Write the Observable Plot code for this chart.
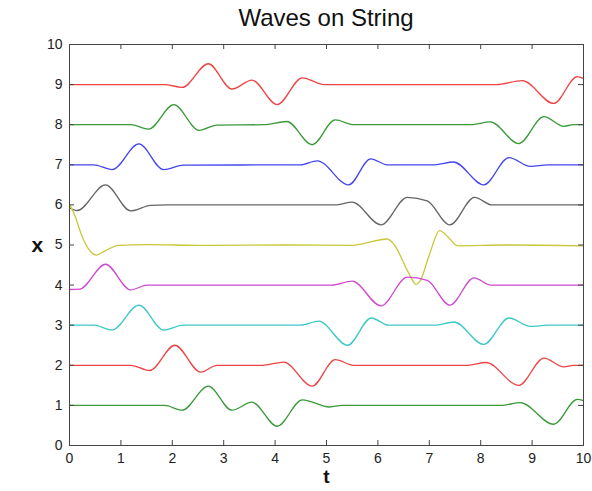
<!DOCTYPE html>
<html><head><meta charset="utf-8">
<script src="https://cdn.jsdelivr.net/npm/d3@7"></script>
<script src="https://cdn.jsdelivr.net/npm/@observablehq/plot@0.6"></script>
<style>
body{margin:0;background:#fff;font-family:"Liberation Sans",Arial,sans-serif;}
#title{width:592px;height:34px;box-sizing:border-box;padding-left:60px;text-align:center;font-size:24px;line-height:36px;color:#111;}
</style></head>
<body>
<div id="title">Waves on String</div>
<div id="chart"></div>
<script>
const xTicks = [0,1,2,3,4,5,6,7,8,9,10];
const yTicks = [0,1,2,3,4,5,6,7,8,9,10];

// key points: t values and x values per string
const t9 = [0,1.85,2.19,2.70,3.16,3.55,4.04,4.53,4.95,8.3,8.81,9.42,9.88,10];
const x9 = [9,9,8.93,9.52,8.89,9.11,8.5,9.17,9.0,9.0,9.1,8.53,9.2,9.15];
const t8 = [0,1.19,1.54,2.03,2.52,2.87,3.78,4.23,4.72,5.17,5.53,7.8,8.19,8.74,9.23,9.62,9.8,10];
const x8 = [8,8,7.89,8.5,7.86,7.99,8.0,8.08,7.5,8.12,8.0,8.0,8.07,7.53,8.2,7.96,8.0,8.0];
const t7 = [0,0.47,0.83,1.35,1.83,2.22,4.49,4.82,5.43,5.86,6.18,7.1,7.47,8.06,8.55,8.97,9.3,10];
const x7 = [7,7,6.88,7.52,6.88,6.99,7.0,7.1,6.5,7.15,7.0,7.0,7.07,6.5,7.18,6.96,7.0,7.0];
const t6 = [0,0.15,0.70,1.19,1.58,1.9,5.2,5.5,6.06,6.57,6.96,7.40,7.88,8.22,10];
const x6 = [5.93,5.86,6.5,5.85,5.99,6.0,6.0,6.07,5.5,6.19,6.1,5.5,6.19,6.0,6.0];
const t5 = [0,0.1,0.25,0.4,0.52,0.7,0.95,1.5,2.6,4.3,5.5,5.7,6.18,6.31,6.6,6.74,6.82,7.0,7.2,7.35,7.55,8.5,10];
const x5 = [6.02,5.75,5.2,4.85,4.75,4.86,4.99,5.01,4.99,5.0,4.99,5.03,5.15,5.02,4.3,4.02,4.1,4.75,5.36,5.22,4.98,5.0,4.98];
const t4 = [0,0.2,0.70,1.19,1.51,5.1,5.5,6.06,6.57,6.96,7.40,7.87,8.2,10];
const x4 = [3.89,3.9,4.52,3.88,4.0,4.0,4.1,3.48,4.2,4.12,3.5,4.18,4.0,4.0];
const t3 = [0,0.47,0.83,1.35,1.83,2.22,4.5,4.85,5.41,5.87,6.21,7.1,7.48,8.06,8.55,8.97,9.3,10];
const x3 = [3,3,2.88,3.5,2.88,3.0,3.0,3.1,2.5,3.18,3.0,3.0,3.08,2.52,3.18,2.97,3.0,3.0];
const t2 = [0,1.19,1.56,2.05,2.55,2.87,3.75,4.17,4.72,5.17,5.53,7.75,8.1,8.74,9.23,9.62,9.8,10];
const x2 = [2,2,1.87,2.5,1.83,2.0,2.0,2.08,1.48,2.14,2.0,2.0,2.07,1.5,2.18,1.96,2.0,2.0];
const t1 = [0,1.85,2.19,2.70,3.16,3.55,4.04,4.53,5.06,5.3,8.4,8.77,9.42,9.88,10];
const x1 = [1,1,0.88,1.48,0.88,1.08,0.48,1.14,0.96,1.0,1.0,1.07,0.53,1.15,1.12];

const seriesColors = ["#ee4444","#3a9a3a","#4545ee","#666666","#c8c83a","#d048d0","#3cc8c8","#ee4444","#3a9a3a"];
const series = [[t9,x9],[t8,x8],[t7,x7],[t6,x6],[t5,x5],[t4,x4],[t3,x3],[t2,x2],[t1,x1]];

const W = 592, H = 457, mL = 69, mR = 9, mT = 10, mB = 46;
const FW = W - mL - mR, FH = H - mT - mB;

const lineMarks = series.map(([ts, xs], i) =>
  Plot.line(ts.map((t, j) => ({t, x: xs[j]})), {x: "t", y: "x", stroke: seriesColors[i], strokeWidth: 1.3, curve: "monotone-x"})
);

const chart = Plot.plot({
  width: W, height: H,
  marginLeft: mL, marginRight: mR, marginTop: mT, marginBottom: mB,
  style: {fontFamily: "Liberation Sans, Arial, sans-serif", fontSize: "14px", color: "#222", background: "#fff"},
  x: {domain: [0, 10]},
  y: {domain: [0, 10]},
  marks: [
    ...lineMarks,
    Plot.frame({stroke: "#444", strokeWidth: 1}),
    Plot.axisX(xTicks, {tickSize: 0, tickPadding: 8, label: null, fontSize: 14}),
    Plot.axisY(yTicks, {tickSize: 0, tickPadding: 7, label: null, fontSize: 14}),
    Plot.tickX(xTicks.slice(1, -1), {x: d => d, insetTop: FH - 5, stroke: "#444"}),
    Plot.tickX(xTicks.slice(1, -1), {x: d => d, insetBottom: FH - 5, stroke: "#444"}),
    Plot.tickY(yTicks.slice(1, -1), {y: d => d, insetRight: FW - 5, stroke: "#444"}),
    Plot.tickY(yTicks.slice(1, -1), {y: d => d, insetLeft: FW - 5, stroke: "#444"}),
    Plot.text(["t"], {frameAnchor: "bottom", dy: 37, fontSize: 19, fontWeight: "bold", fill: "#111"}),
    Plot.text(["x"], {frameAnchor: "left", dx: -38, fontSize: 21, fontWeight: "bold", fill: "#111"})
  ]
});
document.getElementById("chart").appendChild(chart);
</script>
</body></html>
